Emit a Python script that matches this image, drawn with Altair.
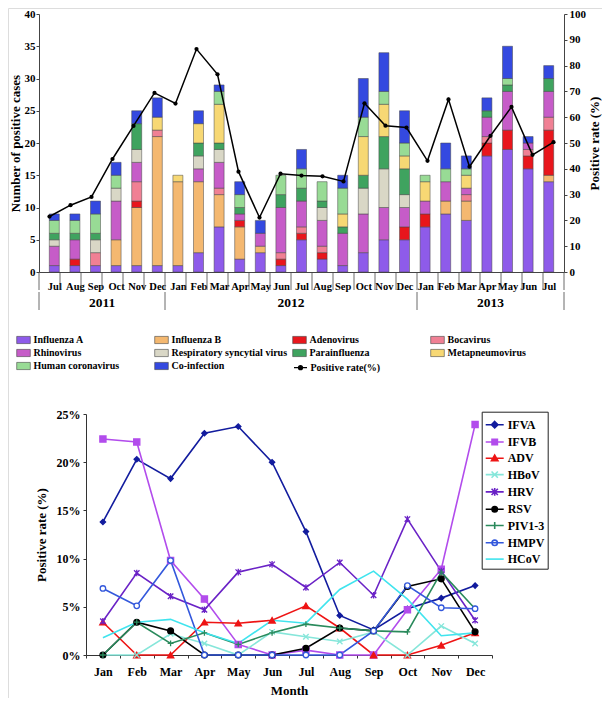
import json
import altair as alt
import pandas as pd

# ---------------- data: top chart ----------------
months_top = ["Jul", "Aug", "Sep", "Oct", "Nov", "Dec",
              "Jan", "Feb", "Mar", "Apr", "May", "Jun", "Jul", "Aug", "Sep", "Oct", "Nov", "Dec",
              "Jan", "Feb", "Mar", "Apr", "May", "Jun", "Jul"]
years_top = ["2011"] * 6 + ["2012"] * 12 + ["2013"] * 7

viruses = ["Influenza A", "Influenza B", "Adenovirus", "Bocavirus", "Rhinovirus",
           "Respiratory syncytial virus", "Parainfluenza", "Metapneumovirus",
           "Human coronavirus", "Co-infection"]
virus_colors = ["#8E5BEA", "#F4B870", "#E8161C", "#F08094", "#C65CC8",
                "#D9D7C6", "#3FA35F", "#F7D874", "#98DB95", "#3449E0"]

influenza_a = [1, 1, 1, 1, 1, 1, 1, 3, 7, 2, 3, 1, 5, 2, 1, 3, 5, 5, 7, 9, 8, 18, 19, 16, 14]
influenza_b = [0, 0, 0, 4, 9, 20, 13, 11, 5, 5, 1, 0, 0, 0, 0, 0, 0, 0, 0, 2, 3, 0, 0, 0, 1]
adenovirus = [0, 1, 0, 0, 1, 0, 0, 0, 0, 1, 0, 1, 1, 1, 0, 0, 0, 2, 2, 0, 0, 2, 3, 2, 7]
bocavirus = [0, 0, 2, 0, 3, 1, 0, 0, 1, 0, 0, 1, 1, 1, 0, 0, 0, 0, 0, 0, 1, 1, 0, 1, 2]
rhinovirus = [3, 3, 0, 6, 3, 0, 0, 2, 4, 1, 2, 7, 4, 4, 5, 6, 5, 3, 2, 3, 1, 3, 6, 1, 4]
rsv = [1, 0, 2, 2, 2, 0, 0, 2, 2, 0, 0, 0, 0, 2, 0, 4, 6, 2, 0, 0, 0, 0, 0, 0, 0]
parainfluenza = [1, 1, 1, 0, 4, 0, 0, 2, 1, 1, 0, 2, 2, 1, 1, 2, 5, 4, 0, 0, 0, 1, 1, 0, 2]
metapneumovirus = [0, 0, 0, 0, 0, 2, 1, 3, 6, 0, 0, 0, 0, 0, 2, 6, 5, 2, 3, 0, 2, 0, 0, 0, 0]
coronavirus = [2, 2, 3, 2, 0, 0, 0, 0, 2, 2, 0, 3, 3, 3, 4, 3, 2, 2, 1, 2, 1, 0, 1, 0, 0]
coinfection = [1, 1, 2, 2, 2, 3, 0, 2, 1, 2, 2, 0, 3, 0, 2, 6, 6, 5, 0, 4, 2, 2, 5, 1, 2]
counts = [influenza_a, influenza_b, adenovirus, bocavirus, rhinovirus, rsv,
          parainfluenza, metapneumovirus, coronavirus, coinfection]

positive_rate = [21.5, 25.9, 29.1, 43.8, 56.6, 69.4, 65.3, 86.4, 76.6, 38.9, 21.1, 38.1, 37.4,
                 37.1, 35.1, 65.4, 56.7, 56.0, 43.1, 66.9, 40.8, 52.8, 64.0, 45.4, 50.3]

# ---------------- data: bottom chart ----------------
months12 = ["Jan", "Feb", "Mar", "Apr", "May", "Jun", "Jul", "Aug", "Sep", "Oct", "Nov", "Dec"]
series = ["IFVA", "IFVB", "ADV", "HBoV", "HRV", "RSV", "PIV1-3", "HMPV", "HCoV"]
series_colors = ["#121C9E", "#B24CEC", "#EE1414", "#86E6DA", "#6A22C6", "#000000",
                 "#2A8A5C", "#3358DC", "#40E4EE"]
series_fill = ["#121C9E", "#B24CEC", "#EE1414", "#86E6DA", "#6A22C6", "#000000",
               "#2A8A5C", "#FFFFFF", "#40E4EE"]

ifva = [13.8, 20.3, 18.3, 23.0, 23.7, 20.0, 12.8, 4.1, 2.6, 4.8, 5.9, 7.2]
ifvb = [22.4, 22.1, 9.8, 5.8, 1.1, 0.0, 0.5, 0.0, 0.0, 4.7, 8.9, 23.9]
adv = [3.4, 0.0, 0.0, 3.4, 3.3, 3.6, 5.1, 2.8, 0.0, 0.0, 1.0, 2.3]
hbov = [0.0, 0.0, 2.2, 1.2, 0.0, 2.4, 1.9, 1.4, 2.4, 0.0, 3.0, 1.2]
hrv = [3.5, 8.5, 6.1, 4.7, 8.6, 9.4, 7.0, 9.6, 6.2, 14.1, 8.7, 3.6]
rsv12 = [0.0, 3.4, 2.5, 0.0, 0.0, 0.0, 0.7, 2.8, 2.5, 7.1, 7.9, 2.4]
piv = [0.0, 3.4, 1.2, 2.3, 1.1, 2.3, 3.2, 2.8, 2.5, 2.4, 8.6, 4.8]
hmpv = [6.9, 5.1, 9.8, 0.0, 0.0, 0.0, 0.0, 0.0, 2.5, 7.2, 4.9, 4.8]
hcov = [1.8, 3.4, 3.7, 2.3, 1.2, 3.6, 3.3, 6.8, 8.7, 5.8, 2.0, 2.3]
rates = [ifva, ifvb, adv, hbov, hrv, rsv12, piv, hmpv, hcov]

# marker shapes (plot) and legend symbols (line + marker)
plot_shapes = {
    "IFVA": ("diamond", 28),
    "IFVB": ("square", 38),
    "ADV": ("triangle-up", 40),
    "HBoV": ("M-1,-1L1,1M-1,1L1,-1", 30),
    "HRV": ("M-1,-1L1,1M-1,1L1,-1M0,-1.2V1.2", 30),
    "RSV": ("circle", 34),
    "PIV1-3": ("M-1,0H1M0,-1V1", 34),
    "HMPV": ("circle", 30),
}
circ = "M-0.3,0A0.3,0.3,0,1,1,0.3,0A0.3,0.3,0,1,1,-0.3,0Z"
legend_paths = [
    "M-1,0H1M0,-0.36L0.36,0L0,0.36L-0.36,0Z",
    "M-1,0H1M-0.3,-0.3H0.3V0.3H-0.3Z",
    "M-1,0H1M0,-0.36L0.36,0.28H-0.36Z",
    "M-1,0H1M-0.35,-0.35L0.35,0.35M-0.35,0.35L0.35,-0.35",
    "M-1,0H1M-0.35,-0.35L0.35,0.35M-0.35,0.35L0.35,-0.35M0,-0.42V0.42",
    "M-1,0H1" + circ,
    "M-1,0H1M0,-0.4V0.4",
    "M-1,0H1" + circ,
    "M-1,0H1",
]

FONT = "Liberation Serif"
W, H = 594, 690                      # whole drawing area

# top panel geometry (pixels inside the drawing area)
TX0, TX1, TY0, TY1 = 31, 556, 6, 264
# bottom panel geometry
BX0, BX1, BY0, BY1 = 78, 484, 406, 647

# ---------------- top chart ----------------
rows = []
for vi, v in enumerate(viruses):
    for i, c in enumerate(counts[vi]):
        if c > 0:
            rows.append({"i": i, "virus": v, "order": vi, "count": c})
bars_df = pd.DataFrame(rows)
line_df = pd.DataFrame({"i": list(range(len(months_top))), "rate": positive_rate,
                        "label": ["Positive rate(%)"] * len(months_top)})
month_sep_df = pd.DataFrame({"b": [i - 0.5 for i in range(len(months_top) + 1)]})
year_names = sorted(set(years_top))
year_idx = {y: [i for i, yy in enumerate(years_top) if yy == y] for y in year_names}
year_df = pd.DataFrame({"year": year_names,
                        "mid": [(year_idx[y][0] + year_idx[y][-1]) / 2 for y in year_names]})
year_sep_df = pd.DataFrame({"b": [year_idx[y][0] - 0.5 for y in year_names] + [len(months_top) - 0.5]})


def xscale_top():
    return alt.Scale(domain=[-0.5, len(months_top) - 0.5], range=[TX0, TX1], nice=False, zero=False)


label_expr = json.dumps(months_top) + "[datum.value]"

x_top_axis = alt.X("i:Q", scale=xscale_top(),
                   axis=alt.Axis(orient="bottom", offset=TY1 - H, values=list(range(len(months_top))),
                                 labelExpr=label_expr, ticks=False, grid=False, title=None,
                                 labelFont=FONT, labelFontSize=10.5, labelFontWeight="bold",
                                 labelPadding=9, labelOverlap=False, labelFlush=False,
                                 domainColor="#444", labelColor="black"))
x_top_plain = alt.X("i:Q", scale=xscale_top(), axis=None)

bars = alt.Chart(bars_df).mark_bar(size=10, stroke="#444", strokeWidth=0.5).encode(
    x=x_top_axis,
    y=alt.Y("count:Q", stack="zero",
            scale=alt.Scale(domain=[0, 40], range=[TY1, TY0], nice=False, zero=True),
            axis=alt.Axis(orient="left", offset=-TX0, values=list(range(0, 41, 5)),
                          title="Number of positive cases", grid=False, tickSize=3,
                          labelPadding=1, titlePadding=2, labelFont=FONT, labelFontSize=11,
                          labelFontWeight="bold", titleFont=FONT, titleFontSize=13,
                          titleFontWeight="bold", domainColor="#444", tickColor="#444",
                          labelColor="black", titleColor="black")),
    fill=alt.Fill("virus:N", scale=alt.Scale(domain=viruses, range=virus_colors),
                  legend=alt.Legend(orient="none", legendX=10.5, legendY=327, columns=4,
                                    direction="horizontal", gridAlign="all", title=None,
                                    symbolType="M-1.7,-0.9H1.7V0.9H-1.7Z", symbolSize=64,
                                    symbolStrokeWidth=0.6, labelFont=FONT, labelFontSize=10,
                                    labelFontWeight="bold", labelOffset=5, columnPadding=4,
                                    rowPadding=3, padding=0, labelColor="black")),
    order=alt.Order("order:Q", sort="ascending"),
)

y_rate = alt.Y("rate:Q", scale=alt.Scale(domain=[0, 100], range=[TY1, TY0], nice=False),
               axis=alt.Axis(orient="right", offset=TX1 - W, values=list(range(0, 101, 10)),
                             title="Positive rate (%)", grid=False, tickSize=3, labelPadding=2,
                             titlePadding=3, titleAngle=270, titleBaseline="top",
                             labelFont=FONT, labelFontSize=11, labelFontWeight="bold",
                             titleFont=FONT, titleFontSize=13, titleFontWeight="bold",
                             domainColor="#444", tickColor="#444", labelColor="black",
                             titleColor="black"))
rate_line = alt.Chart(line_df).mark_line(strokeWidth=1.5).encode(
    x=x_top_plain, y=y_rate,
    stroke=alt.Stroke("label:N", scale=alt.Scale(domain=["Positive rate(%)"], range=["black"]),
                      legend=alt.Legend(orient="none", legendX=285, legendY=352.2, title=None,
                                        symbolType="M-1,0H1M-0.3,0A0.3,0.3,0,1,1,0.3,0A0.3,0.3,0,1,1,-0.3,0Z",
                                        symbolSize=169, symbolStrokeWidth=1.3,
                                        symbolFillColor="black", labelFont=FONT,
                                        labelFontSize=10, labelFontWeight="bold",
                                        labelOffset=2.5, padding=0, labelColor="black")),
)
rate_pts = alt.Chart(line_df).mark_point(filled=True, size=18, color="black", opacity=1).encode(
    x=x_top_plain, y=y_rate)
rate_layer = alt.layer(rate_line, rate_pts)

month_seps = alt.Chart(month_sep_df).mark_rule(color="#444", strokeWidth=0.8).encode(
    x=alt.X("b:Q", scale=xscale_top(), axis=None), y=alt.value(TY1), y2=alt.value(TY1 + 18))
year_seps = alt.Chart(year_sep_df).mark_rule(color="#444", strokeWidth=0.8).encode(
    x=alt.X("b:Q", scale=xscale_top(), axis=None), y=alt.value(TY1 + 20), y2=alt.value(TY1 + 38))
year_text = alt.Chart(year_df).mark_text(font=FONT, fontSize=13.5, fontWeight="bold",
                                         color="black", baseline="middle").encode(
    x=alt.X("mid:Q", scale=xscale_top(), axis=None), y=alt.value(TY1 + 31), text="year:N")

# ---------------- bottom chart ----------------
bot_rows = []
for si, s in enumerate(series):
    for k, m in enumerate(months12):
        bot_rows.append({"month": m, "series": s, "rate": rates[si][k]})
bot_df = pd.DataFrame(bot_rows)

x_bot = alt.X("month:N", sort=months12,
              scale=alt.Scale(type="band", paddingInner=0, paddingOuter=0, range=[BX0, BX1]),
              axis=alt.Axis(orient="bottom", offset=BY1 - H, title="Month", tickBand="extent",
                            tickSize=3, labelAngle=0, labelPadding=8, titlePadding=7, grid=False,
                            labelFont=FONT, labelFontSize=12, labelFontWeight="bold",
                            titleFont=FONT, titleFontSize=13, titleFontWeight="bold",
                            domainColor="#333", tickColor="#333", labelColor="black",
                            titleColor="black"))
y_bot = alt.Y("rate:Q", scale=alt.Scale(domain=[0, 25], range=[BY1, BY0], nice=False),
              axis=alt.Axis(orient="left", offset=-BX0, values=[0, 5, 10, 15, 20, 25],
                            labelExpr="datum.value + '%'", title="Positive rate (%)",
                            tickSize=3, labelPadding=3, titlePadding=8, grid=False,
                            labelFont=FONT, labelFontSize=12, labelFontWeight="bold",
                            titleFont=FONT, titleFontSize=13, titleFontWeight="bold",
                            domainColor="#333", tickColor="#333", labelColor="black",
                            titleColor="black"))

leg2 = alt.Legend(orient="none", legendX=473.7, legendY=403.7, title=None, symbolSize=324,
                  symbolStrokeWidth=1.6, labelFont=FONT, labelFontSize=12, labelFontWeight="bold",
                  labelOffset=3, rowPadding=0.3, padding=3, strokeColor="#222", fillColor="white",
                  labelColor="black")
stroke_enc = alt.Stroke("series:N", scale=alt.Scale(domain=series, range=series_colors), legend=leg2)
fill_enc = alt.Fill("series:N", scale=alt.Scale(domain=series, range=series_fill), legend=leg2)
shape_enc = alt.Shape("series:N", scale=alt.Scale(domain=series, range=legend_paths), legend=leg2)

base2 = alt.Chart(bot_df)
lines2 = base2.mark_line(strokeWidth=1.6).encode(x=x_bot, y=y_bot, stroke=stroke_enc)
layers2 = [lines2]
for s in series:
    if s not in plot_shapes:
        continue
    shp, sz = plot_shapes[s]
    layers2.append(
        base2.transform_filter(alt.datum.series == s)
        .mark_point(shape=shp, size=sz, filled=True, strokeWidth=1.3, opacity=1)
        .encode(x=x_bot, y=y_bot, stroke=stroke_enc, fill=fill_enc)
    )
legend_layer = base2.transform_filter("false").mark_point(filled=True).encode(
    x=x_bot, y=y_bot, stroke=stroke_enc, fill=fill_enc, shape=shape_enc)
layers2.append(legend_layer)
bottom = alt.layer(*layers2)

chart = alt.layer(bars, rate_layer, month_seps, year_seps, year_text, bottom).resolve_scale(
    x="independent", y="independent", fill="independent", stroke="independent",
    shape="independent").resolve_legend(fill="independent", stroke="independent",
                                        shape="independent").properties(
    width=W, height=H, autosize=alt.AutoSizeParams(type="none"), padding=0
).configure_view(stroke=None).configure(background="white")

chart.save("out.html", embed_options={"renderer": "svg", "actions": False})
